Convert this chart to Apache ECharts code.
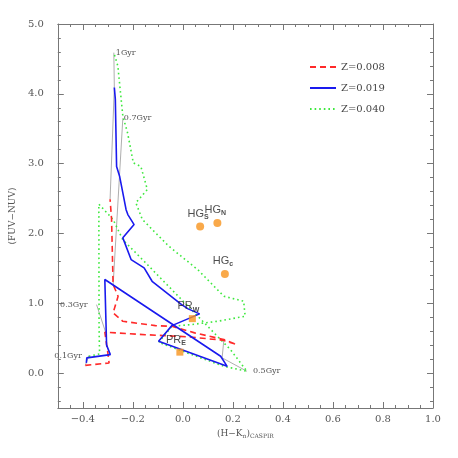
<!DOCTYPE html>
<html>
<head>
<meta charset="utf-8">
<script src="https://cdn.jsdelivr.net/npm/echarts@6/dist/echarts.min.js"></script>
<style>
  html, body { margin: 0; padding: 0; background: #fff; }
  #chart { width: 458px; height: 458px; }
</style>
</head>
<body>
<div id="chart"></div>
<script>
// tick positions
var xMajor = [-0.4, -0.2, 0.0, 0.2, 0.4, 0.6, 0.8, 1.0];
var yMajor = [0, 1, 2, 3, 4, 5];
var xMinor = [];
for (var i = -9; i <= 19; i++) { xMinor.push(i * 0.05); }
var yMinor = [];
for (var j = -2; j <= 24; j++) { yMinor.push(j * 0.2); }

// model tracks (H-K, FUV-NUV)
var z008 = [[-0.39, 0.11], [-0.295, 0.145], [-0.30, 0.29], [-0.312, 0.585], [-0.15, 0.55], [0.02, 0.52],
  [0.16, 0.47], [0.215, 0.41], [0.164, 0.48], [0.047, 0.576], [-0.044, 0.67], [-0.110, 0.68],
  [-0.240, 0.742], [-0.279, 0.862], [-0.259, 1.10], [-0.279, 1.27], [-0.285, 2.2], [-0.291, 2.49]];
var z019 = [[-0.386, 0.146], [-0.384, 0.218], [-0.29, 0.265], [-0.305, 0.40], [-0.312, 1.34], [0.151, 0.241],
  [0.177, 0.097], [-0.097, 0.456], [-0.044, 0.68], [0.067, 0.848], [0.021, 0.92], [-0.005, 0.98],
  [-0.123, 1.315], [-0.155, 1.507], [-0.207, 1.626], [-0.240, 1.937], [-0.195, 2.127], [-0.220, 2.27],
  [-0.227, 2.34], [-0.253, 2.82], [-0.265, 2.96], [-0.270, 3.92], [-0.274, 4.09]];
var z040 = [[-0.376, 0.24], [-0.333, 0.275], [-0.335, 0.62], [-0.336, 2.42], [-0.279, 2.20], [-0.240, 1.91],
  [-0.149, 1.58], [-0.070, 1.29], [0.021, 0.957], [0.112, 0.623], [0.190, 0.337], [0.256, 0.026],
  [0.164, 0.097], [-0.097, 0.44], [-0.044, 0.67], [0.034, 0.695], [0.139, 0.742], [0.249, 0.814],
  [0.243, 1.03], [0.164, 1.10], [0.060, 1.48], [-0.057, 1.82], [-0.162, 2.20], [-0.188, 2.44],
  [-0.142, 2.63], [-0.168, 2.96], [-0.198, 3.01], [-0.221, 3.44], [-0.240, 3.68], [-0.260, 4.40],
  [-0.276, 4.59]];

// isochrones joining the tracks
var isoNames = ['1Gyr', '0.7Gyr', '0.5Gyr', '0.3Gyr', '0.1Gyr'];
var isoPoints = [
  [[-0.276, 4.59], [-0.274, 4.09], [-0.291, 2.49]],
  [[-0.240, 3.65], [-0.279, 1.25]],
  [[0.256, 0.026], [0.157, 0.218], [0.164, 0.48]],
  [[-0.345, 0.98], [-0.308, 0.576]],
  [[-0.376, 0.25], [-0.39, 0.11]]
];
var isoSide = ['right', 'right', 'right', 'left', 'left'];
var isoGap = [2, 1, 6, 9, 7];

// observed regions
var hgNames = ['S', 'N', 'c'];
var hgPoints = [[0.069, 2.10], [0.138, 2.15], [0.168, 1.42]];
var prNames = ['W', 'E'];
var prPoints = [[0.038, 0.78], [-0.012, 0.30]];

var serif = 'DejaVu Serif';
var axisColor = '#777';

function fmt(v) {
  return (v < 0 ? '\u2212' : '') + Math.abs(v).toFixed(1);
}

function mkAxis(pos, ticks, major, labels) {
  var horiz = (pos === 'bottom' || pos === 'top');
  return {
    type: 'value', position: pos,
    min: -0.5,
    max: horiz ? 1.0 : 5.0,
    axisLine: { show: major, onZero: false, lineStyle: { color: axisColor, width: 1 } },
    splitLine: { show: false },
    axisTick: { inside: true, length: major ? 6 : 3, customValues: ticks, lineStyle: { color: axisColor } },
    axisLabel: labels ? { customValues: ticks, formatter: fmt, fontFamily: serif, fontSize: 10, color: '#555' } : { show: false }
  };
}

var xAxes = [
  mkAxis('bottom', xMajor, true, true),
  mkAxis('bottom', xMinor, false, false),
  mkAxis('top', xMajor, true, false),
  mkAxis('top', xMinor, false, false)
];
xAxes[0].axisLabel.margin = 6;
xAxes[0].name = '{t|(H\u2212K}{s|n}{t|)}{s|CASPIR}';
xAxes[0].nameLocation = 'middle';
xAxes[0].nameGap = 18;
xAxes[0].nameTextStyle = {
  rich: {
    t: { fontFamily: serif, fontSize: 9, color: '#555' },
    s: { fontFamily: serif, fontSize: 6, color: '#555', padding: [7, 0, 0, 0] }
  }
};

var yAxes = [
  mkAxis('left', yMajor, true, true),
  mkAxis('left', yMinor, false, false),
  mkAxis('right', yMajor, true, false),
  mkAxis('right', yMinor, false, false)
];
yAxes[0].axisLabel.margin = 14;
yAxes[0].name = '(FUV\u2212NUV)';
yAxes[0].nameLocation = 'middle';
yAxes[0].nameGap = 29;
yAxes[0].nameTextStyle = { fontFamily: serif, fontSize: 9, color: '#555' };

var series = [];

for (var k = 0; k < isoNames.length; k++) {
  series.push({
    name: 'iso' + k, type: 'line', data: isoPoints[k], symbol: 'none', silent: true, z: 1,
    lineStyle: { color: '#999', width: 0.8 },
    markPoint: {
      symbol: 'circle', symbolSize: 0,
      data: [{ coord: isoPoints[k][0], value: isoNames[k] }],
      label: {
        show: true, position: isoSide[k], distance: isoGap[k],
        formatter: '{c}', fontFamily: serif, fontSize: 8, color: '#555'
      }
    }
  });
}

series.push({
  name: 'Z=0.008', type: 'line', data: z008, symbol: 'none', z: 3,
  lineStyle: { color: '#ff2a2a', width: 1.6, type: [6, 4] }, itemStyle: { color: '#ff2a2a' }
});
series.push({
  name: 'Z=0.019', type: 'line', data: z019, symbol: 'none', z: 4,
  lineStyle: { color: '#1a1aee', width: 1.6 }, itemStyle: { color: '#1a1aee' }
});
series.push({
  name: 'Z=0.040', type: 'line', data: z040, symbol: 'none', z: 2,
  lineStyle: { color: '#3ee83e', width: 1.6, type: [1.6, 3] }, itemStyle: { color: '#3ee83e' }
});

var richLab = {
  m: { fontFamily: 'Liberation Sans', fontSize: 11, color: '#222' },
  s: { fontFamily: 'Liberation Sans', fontSize: 7, fontWeight: 'bold', color: '#222', padding: [7, 0, 0, 0] }
};

series.push({
  name: 'HG', type: 'scatter', z: 6,
  data: hgPoints,
  symbol: 'circle', symbolSize: 8,
  itemStyle: { color: '#f7941d' },
  label: {
    show: true, position: 'top', distance: 2, offset: [-2, 0],
    formatter: function (p) { return '{m|HG}{s|' + hgNames[p.dataIndex] + '}'; },
    rich: richLab
  }
});
series.push({
  name: 'PR', type: 'scatter', z: 6,
  data: prPoints,
  symbol: 'rect', symbolSize: 7,
  itemStyle: { color: '#f7941d' },
  label: {
    show: true, position: 'top', distance: 2, offset: [-4, 0],
    formatter: function (p) { return '{m|PR}{s|' + prNames[p.dataIndex] + '}'; },
    rich: richLab
  }
});

var chart = echarts.init(document.getElementById('chart'), null, { renderer: 'canvas' });
chart.setOption({
  animation: false,
  backgroundColor: '#fff',
  grid: { left: 50, right: 25, top: 24, bottom: 50 },
  legend: {
    data: ['Z=0.008', 'Z=0.019', 'Z=0.040'],
    orient: 'vertical', left: 304, top: 57,
    itemWidth: 26, itemHeight: 12, itemGap: 11,
    itemStyle: { opacity: 0 },
    textStyle: { fontFamily: serif, fontSize: 10, color: '#444' }
  },
  xAxis: xAxes,
  yAxis: yAxes,
  series: series
});
</script>
</body>
</html>
